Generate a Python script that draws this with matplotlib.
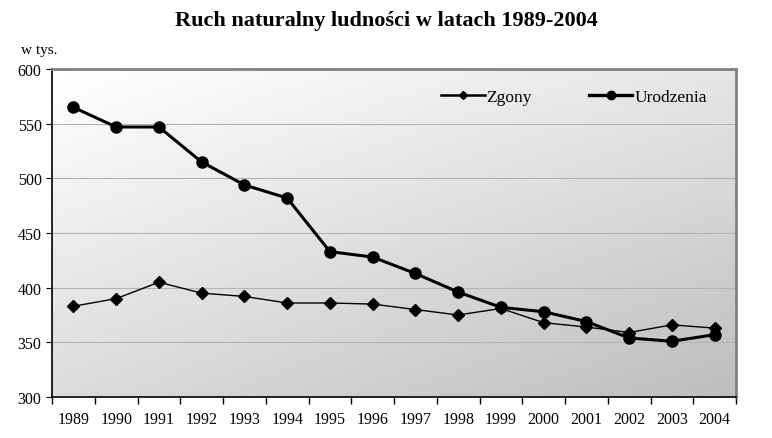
import numpy as np
import matplotlib.pyplot as plt

# data
years = ['1989', '1990', '1991', '1992', '1993', '1994', '1995', '1996',
         '1997', '1998', '1999', '2000', '2001', '2002', '2003', '2004']
zgony = [383, 390, 405, 395, 392, 386, 386, 385, 380, 375, 381, 368, 364, 359, 366, 363]
urodzenia = [565, 547, 547, 515, 494, 482, 433, 428, 413, 396, 382, 378, 369, 354, 351, 357]

plt.rcParams['font.family'] = ['Liberation Serif', 'DejaVu Serif']

fig = plt.figure(figsize=(7.72, 4.39), dpi=100)
ax = fig.add_axes([0.0674, 0.0934, 0.886, 0.747])

# diagonal gradient background
gx, gy = np.meshgrid(np.linspace(0, 1, 200), np.linspace(0, 1, 200))
shade = 1.0 - 0.10 * gx - 0.14 * (1 - gy) - 0.02 * gx * (1 - gy)
ax.imshow(shade, cmap='gray', vmin=0, vmax=1, extent=[0, 1, 0, 1],
          transform=ax.transAxes, origin='lower', aspect='auto', zorder=0)

x = np.arange(len(years))
ax.plot(x, zgony, color='black', lw=1.0, marker='D', markersize=6,
        label='Zgony', zorder=3)
ax.plot(x, urodzenia, color='black', lw=2.2, marker='o', markersize=8,
        label='Urodzenia', zorder=4)

ax.set_xlim(-0.5, len(years) - 0.5)
ax.set_ylim(300, 600)
ax.set_yticks(range(300, 601, 50))
ax.set_xticks(x)
ax.set_xticklabels(years)
ax.set_xticks(np.arange(-0.5, len(years), 1), minor=True)
ax.tick_params(axis='x', which='major', length=0, pad=10, labelsize=11.5)
ax.tick_params(axis='x', which='minor', length=5, direction='out', width=1)
ax.tick_params(axis='y', length=4, direction='out', labelsize=11.5)
ax.grid(axis='y', color='#b4b4b4', lw=0.8, zorder=1)
ax.set_axisbelow(True)

for s in ['top', 'right']:
    ax.spines[s].set_color('#808080')
    ax.spines[s].set_linewidth(2)
for s in ['left', 'bottom']:
    ax.spines[s].set_color('black')
    ax.spines[s].set_linewidth(1.2)

leg = ax.legend(loc='center right', bbox_to_anchor=(0.98, 0.915), ncol=2,
                frameon=False, fontsize=12.5, handlelength=2.5, markerscale=0.75,
                handletextpad=0.1, columnspacing=3.3)
leg.legend_handles[0].set_linewidth(1.8)
leg.legend_handles[1].set_linewidth(2.4)

fig.text(0.5, 0.952, 'Ruch naturalny ludności w latach 1989-2004', ha='center',
         va='center', fontsize=16, fontweight='bold')
fig.text(0.027, 0.885, 'w tys.', fontsize=11, va='center')

fig.savefig('out.png', dpi=100)
